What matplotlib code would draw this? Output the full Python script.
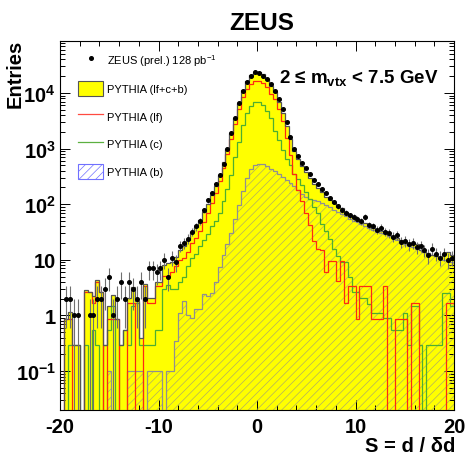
import numpy as np
import matplotlib
matplotlib.use("Agg")
import matplotlib.pyplot as plt
from matplotlib.patches import Patch
from matplotlib.lines import Line2D
from matplotlib.ticker import FixedLocator, FixedFormatter, LogLocator, MultipleLocator, NullFormatter

plt.rcParams['font.family'] = ['Liberation Sans', 'DejaVu Sans']
plt.rcParams['mathtext.fontset'] = 'custom'
plt.rcParams['mathtext.rm'] = 'Liberation Sans'
plt.rcParams['mathtext.it'] = 'Liberation Sans:italic'
plt.rcParams['mathtext.bf'] = 'Liberation Sans:bold'
plt.rcParams['hatch.linewidth'] = 0.5

# ---------------- data (100 bins of width 0.4 from -20 to 20) ----------------
bin_edges = np.linspace(-20, 20, 101)

zeus_data = np.array([
    0, 2, 2, 1, 1, 0, 0, 1, 1, 2,
    2, 3, 5, 1, 2, 4, 2, 4, 3, 2,
    4, 2, 7, 7, 6, 7, 10, 5, 11, 9,
    18, 20, 24, 32, 40, 50, 78, 117, 158, 230,
    340, 525, 1000, 1900, 3550, 6600, 10700, 15800, 20400, 23400,
    22900, 20400, 17800, 14500, 11000, 7760, 5250, 2950, 1585, 1000,
    725, 550, 447, 350, 275, 230, 190, 158, 132, 110,
    93, 79, 71, 63, 58, 55, 50, 60, 42, 40,
    35, 38, 32, 30, 26, 28, 21, 22, 19, 20,
    17, 18, 15, 12, 16, 13, 11, 13, 10, 11], dtype=float)

pythia_lf = np.array([
    0, 0.85, 0.85, 0, 0, 0, 2.6, 2.6, 1.7, 4.0,
    2.6, 0, 0.85, 0.85, 0.85, 0, 0, 1.7, 1.7, 0,
    0, 3.4, 1.7, 1.7, 3.4, 3.4, 5.1, 5.1, 6.0, 7.7,
    10, 11, 14, 20, 25, 33, 48, 71, 105, 158,
    263, 447, 794, 1510, 2820, 5250, 8510, 12000, 14800, 16600,
    16600, 15100, 12600, 9550, 7940, 5250, 3160, 1580, 760, 355,
    178, 112, 71, 42, 22, 16, 15, 6, 9.4, 9.4,
    4.2, 9.4, 1.7, 3.4, 3.4, 0.85, 3.4, 3.4, 3.4, 0.85,
    0.85, 0.85, 3.4, 0, 0, 0.85, 0.85, 0.85, 0, 1.7,
    1.7, 0, 0, 0, 0, 0, 0, 0, 1.7, 1.7])

pythia_c = np.array([
    0, 0, 0.3, 0.3, 0.3, 0, 0.3, 0, 0.55, 0.3,
    0, 0.3, 0.55, 1.5, 0, 0.3, 0.55, 0.3, 1.5, 1.7,
    0.3, 0.3, 0.3, 0.3, 0.55, 0.55, 3.0, 3.6, 3.0, 3.0,
    4.0, 5.0, 7.9, 11, 12.6, 17.4, 22.4, 29, 40, 50,
    71, 112, 186, 331, 708, 1318, 2630, 4365, 5750, 6760,
    6760, 6030, 4790, 3550, 2090, 1410, 955, 660, 500, 355,
    282, 224, 166, 126, 89, 71, 45, 33, 24, 16,
    11.5, 9, 9, 5, 2.6, 2.6, 2.1, 2.1, 1.6, 1.1,
    1.1, 1.1, 0.9, 0.9, 0.55, 0.55, 0.55, 1.1, 0.3, 1.5,
    1.5, 0.3, 0, 0.3, 0.3, 0.3, 0.3, 2.5, 2.5, 1.5])

pythia_b = np.array([
    0, 0, 0, 0, 0, 0, 0, 0, 0, 0,
    0, 0, 0.1, 0, 0, 0, 0, 0.1, 0.1, 0.1,
    0.1, 0, 0.1, 0.1, 0.1, 0.1, 0, 0.1, 0.1, 0.35,
    1.1, 1.8, 1.0, 0.9, 1.3, 1.3, 2.4, 2.2, 2.5, 4.0,
    7.5, 12, 19, 30, 55, 95, 170, 300, 430, 500,
    520, 525, 480, 430, 390, 350, 310, 270, 240, 210,
    180, 155, 135, 125, 120, 112, 105, 96, 88, 80,
    74, 68, 62, 54, 50, 47, 44, 40, 37, 35,
    32, 31, 29, 27, 25, 23, 21, 19, 18, 17,
    16, 15, 14, 13, 12, 11.5, 10.5, 10, 9.5, 9])

x_ticks = [-20, -10, 0, 10, 20]
x_tick_labels = ['-20', '-10', '0', '10', '20']
y_ticks = [0.1, 1, 10, 100, 1000, 10000]
y_tick_labels = [r'$\mathbf{10^{-1}}$', '1', '10', r'$\mathbf{10^{2}}$',
                 r'$\mathbf{10^{3}}$', r'$\mathbf{10^{4}}$']

# stacked total lf+c+b
pythia_total = pythia_lf + pythia_c + pythia_b

# ---------------- figure ----------------
W, H = 465, 456
fig = plt.figure(figsize=(W / 100, H / 100), dpi=100)
ax = fig.add_axes([60 / W, 1 - 411 / H, 394 / W, 369 / H])
ax.set_yscale('log')
ymin, ymax = 0.02, 8.6e4
ax.set_xlim(-20, 20)
ax.set_ylim(ymin, ymax)

floor = 1e-4
def pos(v):
    return np.where(v > 0, v, floor)

ax.stairs(pos(pythia_total), bin_edges, baseline=floor, fill=True,
          facecolor='#ffff00', edgecolor='none', lw=0, zorder=1)
ax.stairs(pos(pythia_b), bin_edges, baseline=floor, fill=True,
          facecolor='none', edgecolor='#b0b060', hatch='////', lw=0, zorder=2)
ax.stairs(pos(pythia_b), bin_edges, baseline=None, color='#909090', lw=0.9, zorder=3)
ax.stairs(pos(pythia_c), bin_edges, baseline=None, color='#4daf30', lw=0.9, zorder=4)
ax.stairs(pos(pythia_lf), bin_edges, baseline=None, color='#ff2a10', lw=0.9, zorder=5)
ax.stairs(pos(pythia_total), bin_edges, baseline=None, color='#555555', lw=0.9, zorder=6)

centers = 0.5 * (bin_edges[:-1] + bin_edges[1:])
m = zeus_data > 0
xd = centers[m]
yd = zeus_data[m]
err = np.sqrt(yd)
lo = yd - np.maximum(yd - err, ymin * 0.5)
ax.errorbar(xd, yd, yerr=[lo, err], fmt='o', ms=2.6, mfc='black', mec='black',
            ecolor='#707070', elinewidth=0.8, capsize=0, zorder=7)

# ticks
ax.xaxis.set_major_locator(FixedLocator(x_ticks))
ax.xaxis.set_major_formatter(FixedFormatter(x_tick_labels))
ax.xaxis.set_minor_locator(MultipleLocator(2))
ax.yaxis.set_major_locator(FixedLocator(y_ticks))
ax.yaxis.set_major_formatter(FixedFormatter(y_tick_labels))
ax.yaxis.set_minor_locator(LogLocator(base=10, subs=np.arange(2, 10), numticks=20))
ax.yaxis.set_minor_formatter(NullFormatter())
ax.tick_params(which='both', direction='in', top=True, right=True, width=0.7)
ax.tick_params(which='major', length=7)
ax.tick_params(which='minor', length=3.5)
ax.tick_params(axis='x', which='major', pad=5, labelsize=14.5)
ax.tick_params(axis='y', which='major', pad=3, labelsize=14.5)
for lab in ax.get_xticklabels() + ax.get_yticklabels():
    lab.set_fontweight('bold')
for s in ax.spines.values():
    s.set_linewidth(0.8)

# legend
handles = [
    Line2D([], [], marker='o', ls='none', color='black', ms=2.6),
    Patch(facecolor='#ffff00', edgecolor='#555555', lw=0.8),
    Line2D([], [], color='#ff4a40', lw=0.9),
    Line2D([], [], color='#5cb040', lw=0.9),
    Patch(facecolor='white', edgecolor='#7070ff', hatch='////', lw=0.8),
]
labels = ['ZEUS (prel.) 128 pb$^{-1}$', 'PYTHIA (lf+c+b)', 'PYTHIA (lf)',
          'PYTHIA (c)', 'PYTHIA (b)']
ax.legend(handles, labels, loc='upper left', frameon=False, fontsize=8,
          handlelength=2.25, handleheight=1.6, labelspacing=1.21, handletextpad=0.4,
          borderpad=0, borderaxespad=0,
          bbox_to_anchor=((78 - 60) / 394, 1 - (53 - 42) / 369))

# texts
fig.text(262 / W, 1 - 24 / H, 'ZEUS', ha='center', va='center',
         fontsize=17.5, fontweight='bold')
fig.text(438 / W, 1 - 83 / H, r'2 ≤ $\mathbf{m_{vtx}}$ < 7.5 GeV', ha='right',
         va='baseline', fontsize=13.5, fontweight='bold')
fig.text(15 / W, 1 - 40 / H, 'Entries', rotation=90, ha='center', va='top',
         fontsize=14.5, fontweight='bold')
fig.text(455 / W, 1 - 452 / H, 'S = d / δd', ha='right', va='baseline',
         fontsize=14.5, fontweight='bold')

fig.savefig('out.png', dpi=100)
